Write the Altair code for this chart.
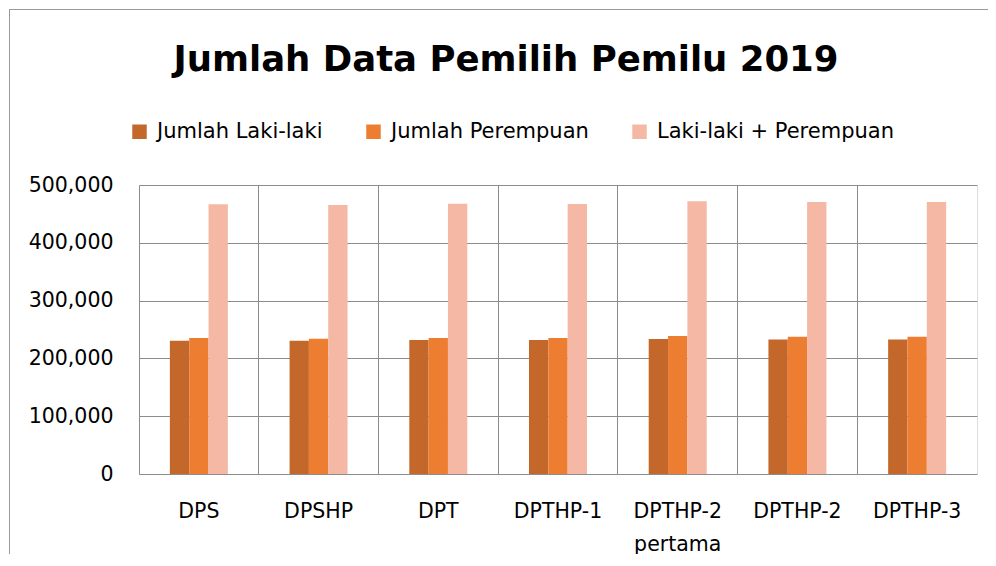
import altair as alt
import pandas as pd

categories = ["DPS", "DPSHP", "DPT", "DPTHP-1", "DPTHP-2 pertama", "DPTHP-2", "DPTHP-3"]
series = ["Jumlah Laki-laki", "Jumlah Perempuan", "Laki-laki + Perempuan"]
laki = [230600, 230600, 231800, 231800, 233600, 232700, 232700]
perempuan = [235300, 234100, 235300, 235300, 238800, 237500, 237500]
total = [466600, 465400, 467600, 467100, 471800, 470600, 470600]
colors = ["#C4672A", "#ED7D31", "#F4B8A5"]
y_ticks = [0, 100000, 200000, 300000, 400000, 500000]

rows = []
for i, c in enumerate(categories):
    for s, v in zip(series, [laki[i], perempuan[i], total[i]]):
        rows.append({"kategori": c, "seri": s, "nilai": v})
df = pd.DataFrame(rows)

FONT = "DejaVu Sans"
GRID = "#8c8c8c"
W = 838
BAND = W / len(categories)
GROUP = 58

bars = alt.Chart(df).mark_bar().encode(
    x=alt.X("kategori:N", sort=categories,
            scale=alt.Scale(paddingInner=0, paddingOuter=0),
            axis=alt.Axis(title=None, labelAngle=0, ticks=False, domain=False,
                          grid=True, bandPosition=0, gridColor=GRID, gridWidth=1,
                          labelFont=FONT, labelFontSize=20.5, labelColor="black",
                          labelPadding=27, labelLineHeight=33,
                          labelExpr="split(datum.label, ' ')")),
    xOffset=alt.XOffset("seri:N", sort=series,
                        scale=alt.Scale(paddingInner=0, paddingOuter=0,
                                        range=[(BAND - GROUP) / 2, (BAND + GROUP) / 2])),
    y=alt.Y("nilai:Q", scale=alt.Scale(domain=[0, 500000], nice=False),
            axis=alt.Axis(title=None, values=y_ticks, format=",d", ticks=False,
                          domain=False, grid=True, gridColor=GRID, gridWidth=1,
                          labelFont=FONT, labelFontSize=20.5, labelColor="black",
                          labelPadding=26)),
    color=alt.Color("seri:N", sort=series,
                    scale=alt.Scale(domain=series, range=colors),
                    legend=alt.Legend(title=None, orient="none", direction="horizontal",
                                      legendX=-10, legendY=-64, padding=0,
                                      symbolType="square", symbolSize=210,
                                      symbolStrokeWidth=0, labelOffset=7,
                                      columnPadding=40, labelFont=FONT,
                                      labelFontSize=21, labelColor="black",
                                      labelLimit=400)),
)

frame_left = alt.Chart(df).mark_rule(color="#9a9a9a", strokeWidth=1).encode(
    x=alt.value(-129.5), y=alt.value(-175.5), y2=alt.value(420)
)
frame_top = alt.Chart(df).mark_rule(color="#9a9a9a", strokeWidth=1).encode(
    x=alt.value(-129.5), x2=alt.value(900), y=alt.value(-175.5)
)

chart = alt.layer(frame_left, frame_top, bars).properties(
    width=W, height=289,
    title=alt.TitleParams("Jumlah Data Pemilih Pemilu 2019", font=FONT, fontSize=35.5,
                          fontWeight="bold", color="black", anchor="middle",
                          baseline="alphabetic", dx=-52, dy=97, offset=0),
    autosize=alt.AutoSizeParams(type="none"),
    padding={"left": 131, "top": 177, "right": 11, "bottom": 80},
).configure_view(stroke=GRID, strokeWidth=1).configure(background="white")

chart.save("out.html", embed_options={"renderer": "svg", "actions": False})
